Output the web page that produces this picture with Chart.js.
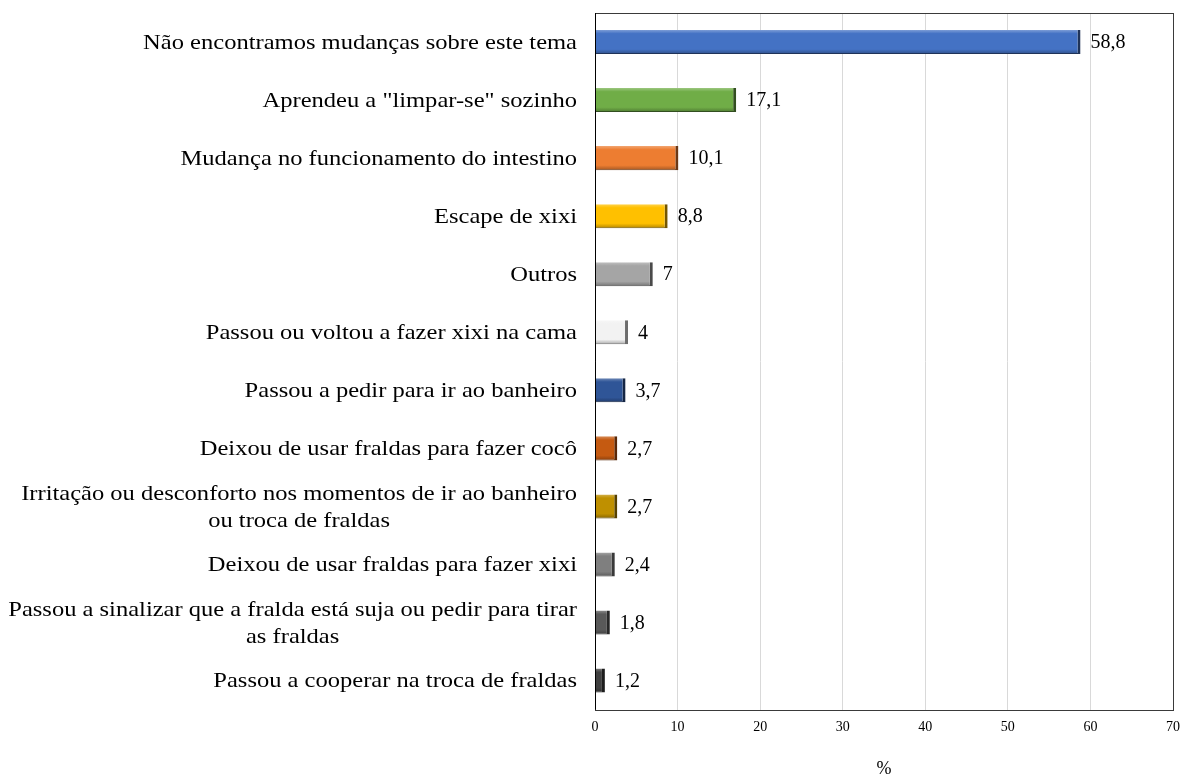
<!DOCTYPE html>
<html>
<head>
<meta charset="utf-8">
<script src="https://cdn.jsdelivr.net/npm/chart.js@4"></script>
<style>
html,body{margin:0;padding:0;background:#fff;}
#wrap{width:1181px;height:780px;position:relative;}
</style>
</head>
<body>
<div id="wrap"><canvas id="c" width="1181" height="780"></canvas></div>
<script>
const categories = [
  ["Não encontramos mudanças sobre este tema"],
  ["Aprendeu a \"limpar-se\" sozinho"],
  ["Mudança no funcionamento do intestino"],
  ["Escape de xixi"],
  ["Outros"],
  ["Passou ou voltou a fazer xixi na cama"],
  ["Passou a pedir para ir ao banheiro"],
  ["Deixou de usar fraldas para fazer cocô"],
  ["Irritação ou desconforto nos momentos de ir ao banheiro", "ou troca de fraldas"],
  ["Deixou de usar fraldas para fazer xixi"],
  ["Passou a sinalizar que a fralda está suja ou pedir para tirar", "as fraldas"],
  ["Passou a cooperar na troca de fraldas"]
];
const values = [58.8, 17.1, 10.1, 8.8, 7, 4, 3.7, 2.7, 2.7, 2.4, 1.8, 1.2];
const valueLabels = ["58,8", "17,1", "10,1", "8,8", "7", "4", "3,7", "2,7", "2,7", "2,4", "1,8", "1,2"];
const barColors = ["#4472C4", "#70AD47", "#ED7D31", "#FFC000", "#A5A5A5", "#F2F2F2", "#2F5597", "#C55A11", "#BF9000", "#7F7F7F", "#595959", "#404040"];
const xTicks = [0, 10, 20, 30, 40, 50, 60, 70];
const xTitle = "%";

function shade(hex, f) {
  const n = parseInt(hex.slice(1), 16);
  let r = (n >> 16) & 255, g = (n >> 8) & 255, b = n & 255;
  if (f < 0) { r = r * (1 + f); g = g * (1 + f); b = b * (1 + f); }
  else { r = r + (255 - r) * f; g = g + (255 - g) * f; b = b + (255 - b) * f; }
  return `rgb(${Math.round(r)},${Math.round(g)},${Math.round(b)})`;
}

const SERIF = "'Liberation Serif', 'Times New Roman', serif";

const labelPlugin = {
  id: 'labels',
  afterDatasetsDraw(chart) {
    const ctx = chart.ctx;
    const y = chart.scales.y;
    const meta = chart.getDatasetMeta(0);
    ctx.save();
    ctx.fillStyle = '#000';
    ctx.textBaseline = 'middle';
    ctx.font = "22px " + SERIF;
    const sx = 1.115;
    const right = 577;
    const lh = 27;
    categories.forEach((lines, i) => {
      const cy = y.getPixelForValue(i);
      const widths = lines.map(l => ctx.measureText(l).width * sx);
      const bw = Math.max(...widths);
      const cx = right - bw / 2;
      lines.forEach((l, k) => {
        ctx.save();
        ctx.translate(cx, cy + (k - (lines.length - 1) / 2) * lh + 1);
        ctx.scale(sx, 1);
        ctx.textAlign = 'center';
        ctx.fillText(l, 0, 0);
        ctx.restore();
      });
    });
    ctx.font = "20px " + SERIF;
    ctx.textAlign = 'left';
    meta.data.forEach((bar, i) => {
      ctx.fillText(valueLabels[i], bar.x + 10, bar.y + 1);
    });
    ctx.restore();
  }
};

const borderPlugin = {
  id: 'plotBorder',
  afterDraw(chart) {
    const a = chart.chartArea;
    const ctx = chart.ctx;
    ctx.save();
    ctx.strokeStyle = '#3a3a3a';
    ctx.lineWidth = 1;
    ctx.strokeRect(Math.round(a.left) + 0.5, Math.round(a.top) + 0.5, Math.round(a.right - a.left), Math.round(a.bottom - a.top));
    ctx.strokeStyle = '#000';
    ctx.beginPath();
    ctx.moveTo(Math.round(a.left) + 0.5, a.top);
    ctx.lineTo(Math.round(a.left) + 0.5, a.bottom);
    ctx.stroke();
    ctx.restore();
  }
};

new Chart(document.getElementById('c'), {
  type: 'bar',
  data: {
    labels: categories.map(c => c.join(' ')),
    datasets: [{
      data: values,
      backgroundColor: (c) => {
        const base = barColors[c.dataIndex];
        const ys = c.chart.scales && c.chart.scales.y;
        if (!ys || c.dataIndex === undefined) return base;
        const cy = ys.getPixelForValue(c.dataIndex);
        if (!isFinite(cy)) return base;
        const h = 24;
        const g = c.chart.ctx.createLinearGradient(0, cy - h / 2, 0, cy + h / 2);
        g.addColorStop(0, shade(base, 0.3));
        g.addColorStop(0.15, base);
        g.addColorStop(0.8, base);
        g.addColorStop(1, shade(base, -0.3));
        return g;
      },
      borderColor: barColors.map(c => shade(c, -0.55)),
      borderWidth: {top: 0, left: 0, right: 3, bottom: 1},
      borderSkipped: 'left',
      barPercentage: 0.83,
      categoryPercentage: 0.5
    }]
  },
  options: {
    indexAxis: 'y',
    responsive: false,
    animation: false,
    devicePixelRatio: 1,
    layout: {padding: {top: 13, right: 8, left: 0, bottom: 0}},
    plugins: {legend: {display: false}, tooltip: {enabled: false}},
    scales: {
      x: {
        min: 0, max: 70,
        afterBuildTicks: (s) => { s.ticks = xTicks.map(v => ({value: v})); },
        afterFit: (s) => { s.paddingRight = 0; s.paddingLeft = 0; },
        grid: {color: '#d9d9d9', drawTicks: false, lineWidth: 1},
        border: {display: false},
        ticks: {padding: 9, color: '#000', font: {family: SERIF, size: 14}},
        title: {display: true, text: xTitle, color: '#000', font: {family: SERIF, size: 18}, padding: {top: 14, bottom: 0}}
      },
      y: {
        grid: {display: false},
        border: {display: false},
        ticks: {display: false},
        afterFit: (s) => { s.width = 595; }
      }
    }
  },
  plugins: [labelPlugin, borderPlugin]
});
</script>
</body>
</html>
